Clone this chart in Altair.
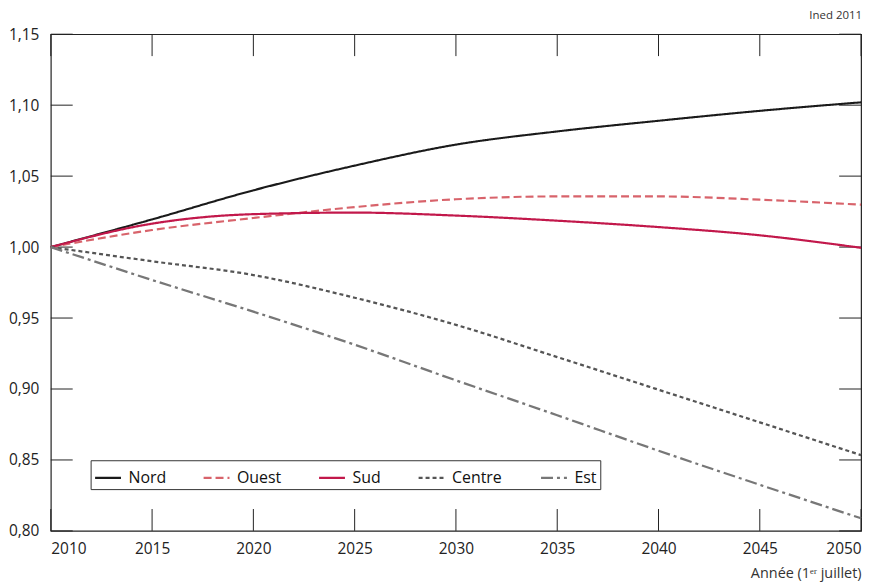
import altair as alt
import pandas as pd

years = [2010, 2015, 2020, 2025, 2030, 2035, 2040, 2045, 2050]
series_names = ["Nord", "Ouest", "Sud", "Centre", "Est"]
nord = [1.000, 1.0195, 1.040, 1.0574, 1.0722, 1.0815, 1.089, 1.096, 1.102]
ouest = [1.000, 1.012, 1.0205, 1.0282, 1.0337, 1.0357, 1.0357, 1.0334, 1.0299]
sud = [1.000, 1.0165, 1.0232, 1.0243, 1.0222, 1.0186, 1.0141, 1.0083, 0.9995]
centre = [1.000, 0.990, 0.9803, 0.9643, 0.9452, 0.9225, 0.8995, 0.8765, 0.8534]
est = [1.000, 0.9768, 0.9545, 0.9312, 0.9061, 0.8815, 0.8565, 0.8325, 0.8089]

y_ticks = [0.80, 0.85, 0.90, 0.95, 1.00, 1.05, 1.10, 1.15]
x_ticks = [2010, 2015, 2020, 2025, 2030, 2035, 2040, 2045, 2050]
source_note = ["Ined 2011"]

colors = ["#1a1a1a", "#d8636b", "#c2184b", "#555555", "#777777"]
dashes = [[1, 0], [8, 4], [1, 0], [4, 3], [12, 4, 3, 4]]
widths = [2.1, 2.3, 1.1, 1.2, 1.2]

rows = []
for name, vals in zip(series_names, [nord, ouest, sud, centre, est]):
    for yr, v in zip(years, vals):
        rows.append({"year": yr, "value": v, "region": name})
df = pd.DataFrame(rows)

W, H = 814, 499
FONT = "Open Sans"
TL = 22

xscale = alt.Scale(domain=[2010, 2050], nice=False, zero=False)
yscale = alt.Scale(domain=[0.80, 1.15], nice=False, zero=False)

legend = alt.Legend(title=None, orient="none", legendX=40, legendY=428,
                    direction="horizontal", symbolType="stroke",
                    symbolSize=676, labelFontSize=16, labelFont=FONT,
                    labelColor="#111", columnPadding=33, labelOffset=6,
                    padding=3, strokeColor="#333", fillColor="white",
                    cornerRadius=0)

lines = alt.Chart(df).mark_line(interpolate="monotone").encode(
    x=alt.X("year:Q", scale=xscale,
            axis=alt.Axis(values=x_ticks, format="d", ticks=False, domain=False, grid=False,
                          labelPadding=11, labelFontSize=15.5, labelFont=FONT, labelColor="#222",
                          title="Année (1ᵉʳ juillet)", titleFont=FONT, titleFontSize=14.5,
                          titleFontWeight="normal", titleColor="#333", titleAnchor="end",
                          titlePadding=9)),
    y=alt.Y("value:Q", scale=yscale,
            axis=alt.Axis(values=y_ticks, ticks=False, domain=False, grid=False,
                          labelExpr="replace(format(datum.value, '.2f'), '.', ',')",
                          labelPadding=12, labelFontSize=15.5, labelFont=FONT, labelColor="#222",
                          title=None)),
    color=alt.Color("region:N", scale=alt.Scale(domain=series_names, range=colors),
                    legend=legend),
    strokeDash=alt.StrokeDash("region:N", scale=alt.Scale(domain=series_names, range=dashes),
                              legend=legend),
    strokeWidth=alt.StrokeWidth("region:N", scale=alt.Scale(domain=series_names, range=widths),
                                legend=legend),
)

ydf = pd.DataFrame({"v": y_ticks})
xdf = pd.DataFrame({"yr": x_ticks})
tick_style = dict(color="#222", strokeWidth=1)

left_ticks = alt.Chart(ydf).mark_rule(**tick_style).encode(
    y=alt.Y("v:Q", scale=yscale), x=alt.value(0), x2=alt.value(TL))
right_ticks = alt.Chart(ydf).mark_rule(**tick_style).encode(
    y=alt.Y("v:Q", scale=yscale), x=alt.value(W - TL), x2=alt.value(W))
bottom_ticks = alt.Chart(xdf).mark_rule(**tick_style).encode(
    x=alt.X("yr:Q", scale=xscale), y=alt.value(H - TL), y2=alt.value(H))
top_ticks = alt.Chart(xdf).mark_rule(**tick_style).encode(
    x=alt.X("yr:Q", scale=xscale), y=alt.value(0), y2=alt.value(TL))

note = alt.Chart(pd.DataFrame({"t": source_note})).mark_text(
    align="right", baseline="middle", fontSize=11.5, font=FONT, color="#333"
).encode(text="t:N", x=alt.value(W + 1), y=alt.value(-18))

chart = alt.layer(left_ticks, right_ticks, bottom_ticks, top_ticks, lines, note).properties(
    width=W, height=H,
    autosize=alt.AutoSizeParams(type="none"),
    padding={"left": 43, "top": 25, "right": 15, "bottom": 52},
).configure_view(stroke="#222", strokeWidth=1.2)

chart.save("out.html", embed_options={"renderer": "svg", "actions": False})
